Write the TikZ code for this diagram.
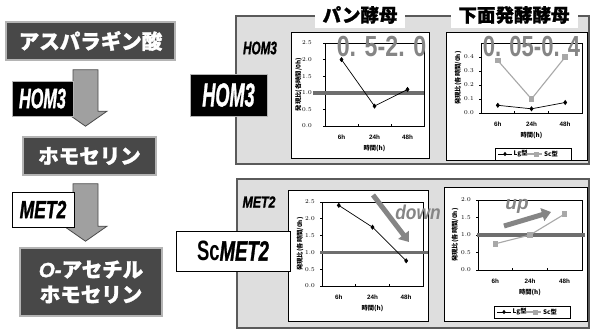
\documentclass[tikz,border=0pt]{standalone}
\usepackage{graphicx}
\usepackage{fontspec}
\setmainfont{Liberation Sans}
\newfontfamily\jp{Noto Sans CJK JP}
\newfontfamily\jpheavy{Noto Sans CJK JP}[BoldFeatures={FakeBold=1.2}]
\newfontfamily\genefont{Liberation Sans}[BoldItalicFeatures={FakeBold=1.5}]
\usetikzlibrary{calc,arrows.meta,plotmarks}
\definecolor{boxdark}{HTML}{484848}
\definecolor{boxedge}{HTML}{B4B4B4}
\definecolor{panelfill}{HTML}{DEDEDE}
\definecolor{paneledge}{HTML}{5A5A5A}
\definecolor{refgray}{HTML}{6E6E6E}
\definecolor{scgray}{HTML}{A8A8A8}
\definecolor{biggray}{HTML}{858585}
\definecolor{arrowfill}{HTML}{A0A0A0}
\definecolor{arrowedge}{HTML}{4A4A4A}
\newcommand{\gene}[3]{\scalebox{#2}[1]{\genefont\fontsize{#1}{#1}\selectfont\bfseries\itshape #3}}
\newcommand{\chartaxes}[6]{%
\begin{scope}[#1]
 \draw[axisline] (0,0) rectangle (#2,#3);
 \foreach \v in {#4} {
  \draw[axisline] (0,\v) -- +(-2pt,0pt);
  \node[ticklab, anchor=east] at (-#5,\v) {\pgfmathprintnumber[fixed,precision=1,fixed zerofill]{\v}};
 }
 \foreach \k in {1,2} \draw[axisline] ({\k*#2/3},0) -- +(0pt,2pt);
 \node[ticklab, yshift=-11.5pt] at ({#2/6},0) {6h};
 \node[ticklab, yshift=-11.5pt] at ({#2/2},0) {24h};
 \node[ticklab, yshift=-11.5pt] at ({5*#2/6},0) {48h};
 \node[ticklab, yshift=-22pt] at ({#2/2},0) {\jp 時間(h)};
 \node[ticklab, rotate=90] at (-#6,{#3/2}) {\jp 発現比(各時間/0h)};
\end{scope}}
\newcommand{\legendbox}[2]{%
\begin{scope}[shift={(#1,#2)}]
 \draw[black, line width=0.8pt, fill=white] (0,-6) rectangle (76,6);
 \draw[black, line width=0.7pt] (3,0) -- (17,0);
 \draw[black] plot[mark=diamond*, mark size=1.8pt, mark options={fill=black}] coordinates {(10,0)};
 \node[ticklab, anchor=west] at (18.5,0) {\jp Lg型};
 \draw[scgray, line width=1.1pt] (32,0) -- (47,0);
 \draw[scgray] plot[mark=square*, mark size=1.8pt, mark options={fill=scgray}] coordinates {(41,0)};
 \node[ticklab, anchor=west] at (49,0) {\jp Sc型};
\end{scope}}
\newcommand{\fatarrow}[2]{%
\draw[fatarrow] let \p1=(#1), \p2=(#2) in
 (\x1-12.5pt,\y1) -- (\x1+12.5pt,\y1) -- (\x1+12.5pt,\y2+15pt) -- (\x1+21.5pt,\y2+15pt)
 -- (\x1,\y2) -- (\x1-21.5pt,\y2+15pt) -- (\x1-12.5pt,\y2+15pt) -- cycle;}
\begin{document}
\begin{tikzpicture}[x=1pt,y=-1pt,
 substance/.style={draw=boxedge, line width=1.6pt, fill=boxdark, text=white, font=\jpheavy\bfseries\fontsize{20.5}{25}\selectfont, align=center, inner sep=0pt},
 genedark/.style={fill=black, draw=boxedge, line width=0.6pt, text=white, inner sep=0pt},
 genelight/.style={fill=white, draw=black, line width=0.8pt, text=black, inner sep=0pt},
 fatarrow/.style={draw=arrowedge, line width=0.8pt, fill=arrowfill},
 panel/.style={draw=paneledge, line width=1.2pt, fill=panelfill, inner sep=0pt},
 chartbox/.style={draw=black, line width=0.8pt, fill=white, inner sep=0pt},
 axisline/.style={draw=black, line width=0.8pt},
 ticklab/.style={font=\fontsize{6.3}{7}\selectfont\bfseries, inner sep=0pt, text=black},
 refline/.style={draw=refgray, line width=3.5pt},
 lgline/.style={draw=black, line width=0.7pt, mark=diamond*, mark size=2pt, mark options={fill=black}},
 scline/.style={draw=scgray, line width=1.1pt, mark=square*, mark size=2.2pt, mark options={fill=scgray, draw=scgray}},
 bignum/.style={text=biggray, inner sep=0pt},
 header/.style={fill=white, font=\jpheavy\bfseries\fontsize{18.5}{20}\selectfont, inner xsep=8pt, inner ysep=4pt},
 trend/.style={draw=biggray, line width=5pt, -{Triangle[length=9pt,width=13pt]}},
 c1/.style={shift={(325,126)},x=1pt,y=33.2pt},
 c2/.style={shift={(481,113)},x=1pt,y=140pt},
 c3/.style={shift={(322,286)},x=1pt,y=33.6pt},
 c4/.style={shift={(478,270)},x=1pt,y=35pt}]
\useasboundingbox (0,0) rectangle (590,333);

% ---------- right panels ----------
\node[panel, minimum width=353, minimum height=148] (p1) at (412.5,90) {};
\node[panel, minimum width=352, minimum height=149] (p2) at (413,253.5) {};
\node[header] (h1) at (360,15) {パン酵母};
\node[header] (h2) at (514,15) {下面発酵酵母};

\node[chartbox, minimum width=138, minimum height=126] (cb1) at (360,95) {};
\node[chartbox, minimum width=141, minimum height=128] (cb2) at (516.5,96) {};
\node[chartbox, minimum width=140, minimum height=131] (cb3) at (358,255.5) {};
\node[chartbox, minimum width=143, minimum height=134] (cb4) at (515.5,254) {};

\node (phom) at (260,48) {\gene{18}{0.65}{HOM3}};
\node (pmet) at (259,202) {\gene{16}{0.77}{MET2}};

% chart 1
\chartaxes{c1}{99}{2.5}{0,0.5,...,2.5}{13}{26.5}
\draw[refline] (313,92.8) -- (424,92.8);
\begin{scope}[c1]
 \draw[lgline] plot coordinates {(16.5,2.0) (49.5,0.6) (82.5,1.1)};
\end{scope}
\node[bignum] (n1) at (381.5,47) {\scalebox{0.8}[1]{\fontsize{29}{29}\selectfont\bfseries 0. 5-2. 0}};

% chart 2
\chartaxes{c2}{101}{0.5}{0,0.1,...,0.5}{7}{23}
\begin{scope}[c2]
 \draw[lgline] plot coordinates {(16.8,0.055) (50.5,0.03) (84.2,0.075)};
 \draw[scline] plot coordinates {(16.8,0.375) (50.5,0.1) (84.2,0.4)};
\end{scope}
\node[bignum] (n2) at (531.5,46.5) {\scalebox{0.76}[1]{\fontsize{29}{29}\selectfont\bfseries 0. 05-0. 4}};
\legendbox{495}{154}

% chart 3
\chartaxes{c3}{101}{2.5}{0,0.5,...,2.5}{7}{22}
\draw[refline] (320,252.4) -- (428,252.4);
\begin{scope}[c3]
 \draw[lgline] plot coordinates {(16.8,2.4) (50.5,1.75) (84.2,0.75)};
\end{scope}
\draw[trend] (373,195) -- (409,242);
\node[bignum] (dn) at (418,212) {\scalebox{0.87}[1]{\fontsize{20}{20}\selectfont\bfseries\itshape down}};

% chart 4
\chartaxes{c4}{104}{2.0}{0,0.5,...,2.0}{7}{23}
\draw[refline] (477,235) -- (585,235);
\begin{scope}[c4]
 \draw[scline] plot coordinates {(17.3,0.75) (52,1.0) (86.7,1.6)};
\end{scope}
\draw[trend] (504,226) -- (551,212);
\node[bignum] (upl) at (517,206) {\fontsize{19}{19}\selectfont\bfseries\itshape up};
\legendbox{494}{312}

% ---------- left pathway ----------
\node[substance, minimum width=169, minimum height=38] (asp) at (90.5,41) {アスパラギン酸};
\node[substance, minimum width=133, minimum height=38] (hom) at (89.5,156) {ホモセリン};
\node[substance, minimum width=142, minimum height=68] (oah) at (91,282) {{\genefont\bfseries\itshape O-}アセチル\\ホモセリン};

\coordinate (a1top) at ($(asp.south)+(-5,9)$);
\coordinate (a1tip) at ($(hom.north)+(-4,-10)$);
\coordinate (a2top) at ($(hom.south)+(-4,8)$);
\coordinate (a2tip) at ($(oah.north)+(-5.5,-6)$);
\fatarrow{a1top}{a1tip}
\fatarrow{a2top}{a2tip}

\node[genedark, minimum width=61, minimum height=35] (lhom) at (42.5,98.5) {\gene{28}{0.58}{HOM3}};
\node[genelight, minimum width=62, minimum height=35] (lmet) at (43,209.5) {\gene{25}{0.7}{MET2}};

% ---------- middle labels ----------
\node[genedark, minimum width=77, minimum height=42] (mhom) at (228.5,95) {\gene{33}{0.55}{HOM3}};
\node[genelight, minimum width=114, minimum height=40] (smet) at (233,251) {\scalebox{0.66}[1]{\genefont\fontsize{28}{28}\selectfont\bfseries Sc\itshape MET2}};
\end{tikzpicture}
\end{document}
